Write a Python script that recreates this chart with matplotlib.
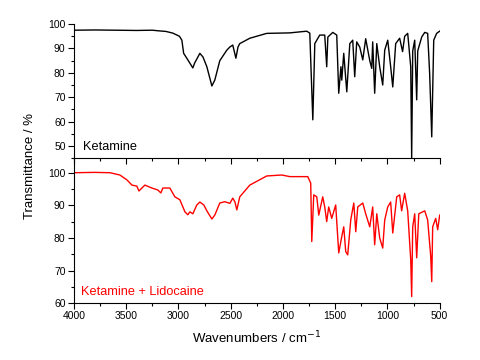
import matplotlib
matplotlib.use("Agg")
from matplotlib import pyplot as plt
from matplotlib.ticker import MultipleLocator

plt.rcParams['font.family'] = ['Liberation Sans', 'DejaVu Sans']

# Ketamine spectrum (wavenumber, transmittance %)
ket_wn = [4000, 3800, 3600, 3400, 3250, 3178, 3120, 3053, 2990, 2967, 2950, 2920, 2862,
          2845, 2795, 2765, 2728, 2680, 2652, 2604, 2537, 2508, 2480, 2450, 2430,
          2413, 2317, 2155, 1934, 1772, 1743, 1714, 1695, 1648, 1600, 1581, 1570,
          1523, 1485, 1466, 1445, 1437, 1418, 1389, 1360, 1332, 1313, 1294, 1265,
          1236, 1208, 1169, 1150, 1141, 1122, 1102, 1074, 1045, 1026, 997, 969,
          949, 921, 883, 855, 835, 806, 777, 768, 758, 739, 720, 710, 672, 643,
          615, 596, 576, 557, 529, 500]
ket_t = [97.5, 97.6, 97.5, 97.4, 97.5, 97.2, 97.0, 96.3, 95.0, 93.4, 88.0, 86.0, 82.0,
         84.0, 88.0, 86.5, 82.5, 74.6, 77.0, 85.0, 89.3, 90.6, 91.4, 86.0, 90.6,
         92.0, 94.2, 96.2, 96.4, 97.1, 96.3, 60.7, 92.0, 95.5, 95.5, 82.5, 94.7,
         96.6, 95.5, 71.6, 82.5, 77.0, 88.0, 72.2, 92.0, 93.4, 78.4, 92.7, 90.6,
         85.3, 94.0, 85.0, 81.8, 92.7, 71.6, 92.0, 82.5, 75.0, 89.3, 93.4, 82.5,
         74.2, 92.0, 94.2, 88.7, 95.0, 96.2, 82.5, 45.0, 89.0, 93.4, 68.9, 89.0, 94.7, 96.6,
         96.2, 79.8, 53.7, 93.4, 96.2, 97.1]

# Ketamine + Lidocaine spectrum
mix_wn = [4000, 3800, 3656, 3560, 3493, 3445, 3398, 3378, 3321, 3254, 3197, 3168,
          3149, 3082, 3034, 2986, 2938, 2910, 2891, 2862, 2824, 2795, 2757, 2728,
          2680, 2652, 2604, 2556, 2508, 2480, 2460, 2441, 2413, 2317, 2155, 2011,
          1934, 1762, 1734, 1724, 1705, 1676, 1657, 1619, 1600, 1581, 1562, 1533,
          1495, 1466, 1437, 1418, 1399, 1380, 1351, 1322, 1303, 1284, 1236, 1208,
          1169, 1141, 1122, 1102, 1074, 1045, 1026, 997, 969, 949, 911, 883, 864,
          835, 806, 777, 768, 758, 739, 720, 700, 643, 615, 586, 576, 567, 538,
          519, 500]
mix_t = [100.0, 100.1, 100.0, 99.3, 97.8, 96.2, 95.9, 94.4, 96.2, 95.3, 94.7, 93.8,
         95.3, 95.3, 92.6, 91.7, 88.0, 87.1, 88.0, 87.4, 90.1, 91.0, 90.1, 88.3,
         85.8, 87.0, 90.7, 91.1, 90.6, 92.2, 91.1, 88.6, 92.6, 96.2, 99.0, 99.3,
         98.8, 98.8, 96.8, 78.9, 93.2, 92.6, 87.0, 92.6, 89.5, 85.0, 89.5, 86.0,
         90.1, 75.4, 80.4, 83.4, 75.8, 74.8, 85.5, 90.7, 81.9, 89.5, 90.7, 87.4,
         83.4, 89.5, 77.9, 87.4, 80.0, 76.9, 85.5, 89.5, 91.0, 81.5, 92.6, 93.2, 88.3,
         93.7, 88.3, 73.3, 62.0, 83.4, 87.4, 73.9, 87.4, 88.3, 85.5, 74.5, 66.6, 83.4, 86.0,
         82.5, 87.0]

fig = plt.figure(figsize=(4.8, 3.6), dpi=100)
ax1 = fig.add_axes([0.154, 0.561, 0.762, 0.372])
ax2 = fig.add_axes([0.154, 0.158, 0.762, 0.403])

ax1.plot(ket_wn, ket_t, color='black', lw=1.0)
ax2.plot(mix_wn, mix_t, color='red', lw=1.0)

for ax in (ax1, ax2):
    ax.set_xlim(4000, 500)
    ax.spines['top'].set_visible(False)
    ax.spines['right'].set_visible(False)
    ax.xaxis.set_major_locator(MultipleLocator(500))
    ax.xaxis.set_minor_locator(MultipleLocator(250))
    ax.yaxis.set_major_locator(MultipleLocator(10))
    ax.yaxis.set_minor_locator(MultipleLocator(5))
    ax.tick_params(which='major', direction='out', length=4, width=0.8, labelsize=7.5, pad=2)
    ax.tick_params(which='minor', direction='out', length=2, width=0.8)
    ax.patch.set_alpha(0)

ax1.set_ylim(45, 100)
ax1.tick_params(axis='x', labelbottom=False)
ax2.set_ylim(60, 104.5)
ax2.set_yticks([60, 70, 80, 90, 100])

ax1.text(0.025, 0.08, "Ketamine", transform=ax1.transAxes, fontsize=9.2,
         va='center', ha='left')
ax2.text(0.019, 0.078, "Ketamine + Lidocaine", transform=ax2.transAxes, fontsize=9.2,
         va='center', ha='left', color='red')

ax2.set_xlabel("Wavenumbers / cm$^{-1}$", fontsize=9.5, labelpad=6)
fig.text(0.062, 0.54, "Transmittance / %", rotation=90, fontsize=9.5,
         va='center', ha='center')

fig.savefig("out.png", dpi=100)
